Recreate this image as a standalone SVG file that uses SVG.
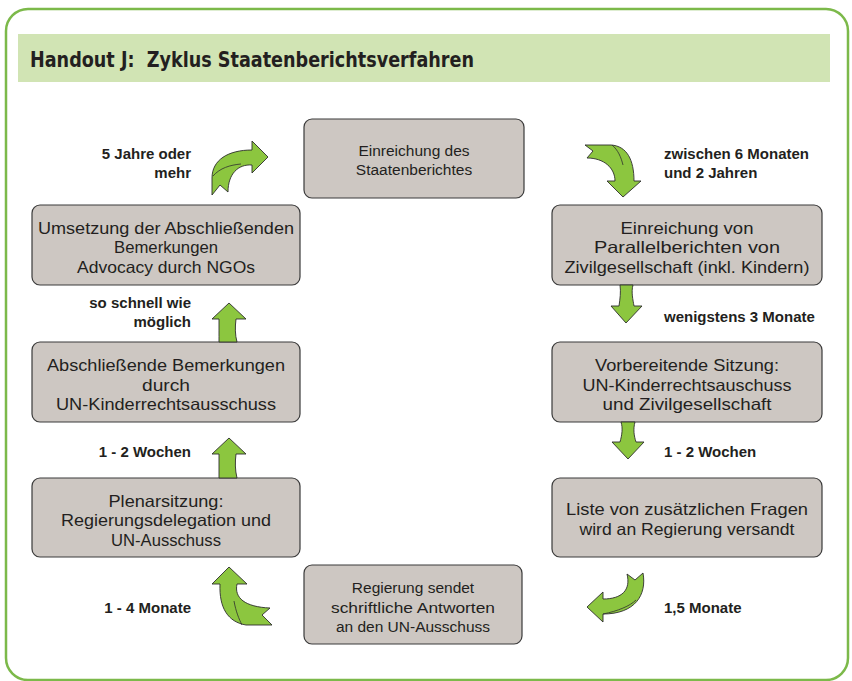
<svg xmlns="http://www.w3.org/2000/svg" width="852" height="681" viewBox="0 0 852 681">
<defs>
<style>
.frame{fill:#fff;stroke:#7cb94a;stroke-width:2.5}
.band{fill:#d1e4b4}
.title{font-family:"DejaVu Sans Condensed","DejaVu Sans",sans-serif;font-weight:bold;font-size:21px;fill:#231f20}
.box{fill:#cdc7c2;stroke:#3a3a3a;stroke-width:1.2}
.bt{font-family:"Liberation Sans",Arial,sans-serif;font-size:16.5px;fill:#231f20;text-anchor:middle}
.sm{font-size:15.5px}
.lbl{font-family:"Liberation Sans",Arial,sans-serif;font-size:15px;font-weight:bold;fill:#231f20}
.end{text-anchor:end}
.arr{fill:#8cc63f;stroke:#2e2e2e;stroke-width:0.9;stroke-linejoin:round}
.fold{fill:none;stroke:#2e2e2e;stroke-width:0.8}
</style>
</defs>
<rect class="frame" x="6" y="9" width="842" height="671" rx="22"/>
<rect class="band" x="18" y="34" width="812" height="48"/>
<text class="title" x="30" y="67" textLength="444" lengthAdjust="spacingAndGlyphs" xml:space="preserve">Handout J:  Zyklus Staatenberichtsverfahren</text>

<g id="n-einreichung">
<rect class="box" x="304" y="119" width="220" height="79" rx="8"/>
<text class="bt sm" x="414" y="156">Einreichung des</text>
<text class="bt sm" x="414" y="175">Staatenberichtes</text>
</g>
<g id="n-parallel">
<rect class="box" x="552" y="205" width="270" height="80" rx="8"/>
<text class="bt" x="687" y="234" textLength="133" lengthAdjust="spacingAndGlyphs">Einreichung von</text>
<text class="bt" x="687" y="253" textLength="186" lengthAdjust="spacingAndGlyphs">Parallelberichten von</text>
<text class="bt" x="687" y="273" textLength="245" lengthAdjust="spacingAndGlyphs">Zivilgesellschaft (inkl. Kindern)</text>
</g>
<g id="n-vorbereitend">
<rect class="box" x="552" y="342" width="270" height="80" rx="8"/>
<text class="bt" x="687" y="371" textLength="184" lengthAdjust="spacingAndGlyphs">Vorbereitende Sitzung:</text>
<text class="bt" x="687" y="391" textLength="209" lengthAdjust="spacingAndGlyphs">UN-Kinderrechtsauschuss</text>
<text class="bt" x="687" y="410" textLength="169" lengthAdjust="spacingAndGlyphs">und Zivilgesellschaft</text>
</g>
<g id="n-liste">
<rect class="box" x="552" y="478" width="270" height="79" rx="8"/>
<text class="bt" x="687" y="515" textLength="242" lengthAdjust="spacingAndGlyphs">Liste von zusätzlichen Fragen</text>
<text class="bt" x="687" y="535" textLength="215" lengthAdjust="spacingAndGlyphs">wird an Regierung versandt</text>
</g>
<g id="n-antworten">
<rect class="box" x="304" y="565" width="218" height="79" rx="8"/>
<text class="bt sm" x="413" y="593">Regierung sendet</text>
<text class="bt sm" x="413" y="613" textLength="164" lengthAdjust="spacingAndGlyphs">schriftliche Antworten</text>
<text class="bt sm" x="413" y="632">an den UN-Ausschuss</text>
</g>
<g id="n-plenar">
<rect class="box" x="32" y="478" width="268" height="79" rx="8"/>
<text class="bt" x="166" y="507" textLength="115" lengthAdjust="spacingAndGlyphs">Plenarsitzung:</text>
<text class="bt" x="166" y="526" textLength="210" lengthAdjust="spacingAndGlyphs">Regierungsdelegation und</text>
<text class="bt" x="166" y="546" textLength="110" lengthAdjust="spacingAndGlyphs">UN-Ausschuss</text>
</g>
<g id="n-abschliessend">
<rect class="box" x="32" y="342" width="268" height="80" rx="8"/>
<text class="bt" x="166" y="371" textLength="238" lengthAdjust="spacingAndGlyphs">Abschließende Bemerkungen</text>
<text class="bt" x="166" y="391" textLength="48" lengthAdjust="spacingAndGlyphs">durch</text>
<text class="bt" x="166" y="410" textLength="220" lengthAdjust="spacingAndGlyphs">UN-Kinderrechtsausschuss</text>
</g>
<g id="n-umsetzung">
<rect class="box" x="32" y="205" width="268" height="80" rx="8"/>
<text class="bt" x="166" y="234" textLength="256" lengthAdjust="spacingAndGlyphs">Umsetzung der Abschließenden</text>
<text class="bt" x="166" y="253" textLength="104" lengthAdjust="spacingAndGlyphs">Bemerkungen</text>
<text class="bt" x="166" y="273" textLength="178" lengthAdjust="spacingAndGlyphs">Advocacy durch NGOs</text>
</g>

<g id="connectors">
<path class="arr" d="M212,195 L212,178 C212,160 228,150 252,150 L252,141 L268,157 L252,173 L252,165 C238,164 228,174 228,192 L220,185 Z"/>
<path class="fold" d="M213,176 C220,168 230,165 241,164"/>
<path class="arr" d="M585,145 L611,145 C627,146 634,160 634,181 L641,181 L623,197 L607,181 L615,181 C615,168 604,158 587,158 L593,151 Z"/>
<path class="fold" d="M612,145 C618,150 621,157 623,165"/>
<path class="arr" d="M620,285 L633,285 C631,292 633,300 634,306 L642,306 L626,323 L611,306 L619,306 C620,299 621,292 620,285 Z"/>
<path class="arr" d="M621,422 L635,422 C633,429 634,436 636,442 L644,442 L628,459 L612,442 L620,442 C622,435 623,428 621,422 Z"/>
<path class="arr" d="M643,573 C647,595 635,614 603,614 L603,622 L587,607 L603,592 L603,599 C622,599 631,590 627,574 L635,580 Z"/>
<path class="fold" d="M603,614 C618,611 630,606 636,600"/>
<path class="arr" d="M229,567 L247,584 L237,584 C234,598 245,607 270,608 L262,615 L272,625 L246,625 C228,622 219,608 220,584 L212,584 Z"/>
<path class="fold" d="M234,601 C236,612 239,619 242,625"/>
<path class="arr" d="M229,303 L246,319 L236,319 C235,327 235,335 237,342 L219,342 C219,335 219,327 219,319 L212,319 Z"/>
<path class="arr" d="M229,438 L246,454 L236,454 C235,462 235,470 237,478 L219,478 C219,470 219,462 219,454 L212,454 Z"/>
</g>

<g id="labels">
<text class="lbl end" x="191" y="159">5 Jahre oder</text>
<text class="lbl end" x="191" y="178">mehr</text>
<text class="lbl" x="664" y="159">zwischen 6 Monaten</text>
<text class="lbl" x="664" y="178">und 2 Jahren</text>
<text class="lbl" x="664" y="322">wenigstens 3 Monate</text>
<text class="lbl" x="664" y="457">1 - 2 Wochen</text>
<text class="lbl" x="664" y="613">1,5 Monate</text>
<text class="lbl end" x="191" y="613">1 - 4 Monate</text>
<text class="lbl end" x="191" y="457">1 - 2 Wochen</text>
<text class="lbl end" x="191" y="308">so schnell wie</text>
<text class="lbl end" x="191" y="327">möglich</text>
</g>
</svg>
